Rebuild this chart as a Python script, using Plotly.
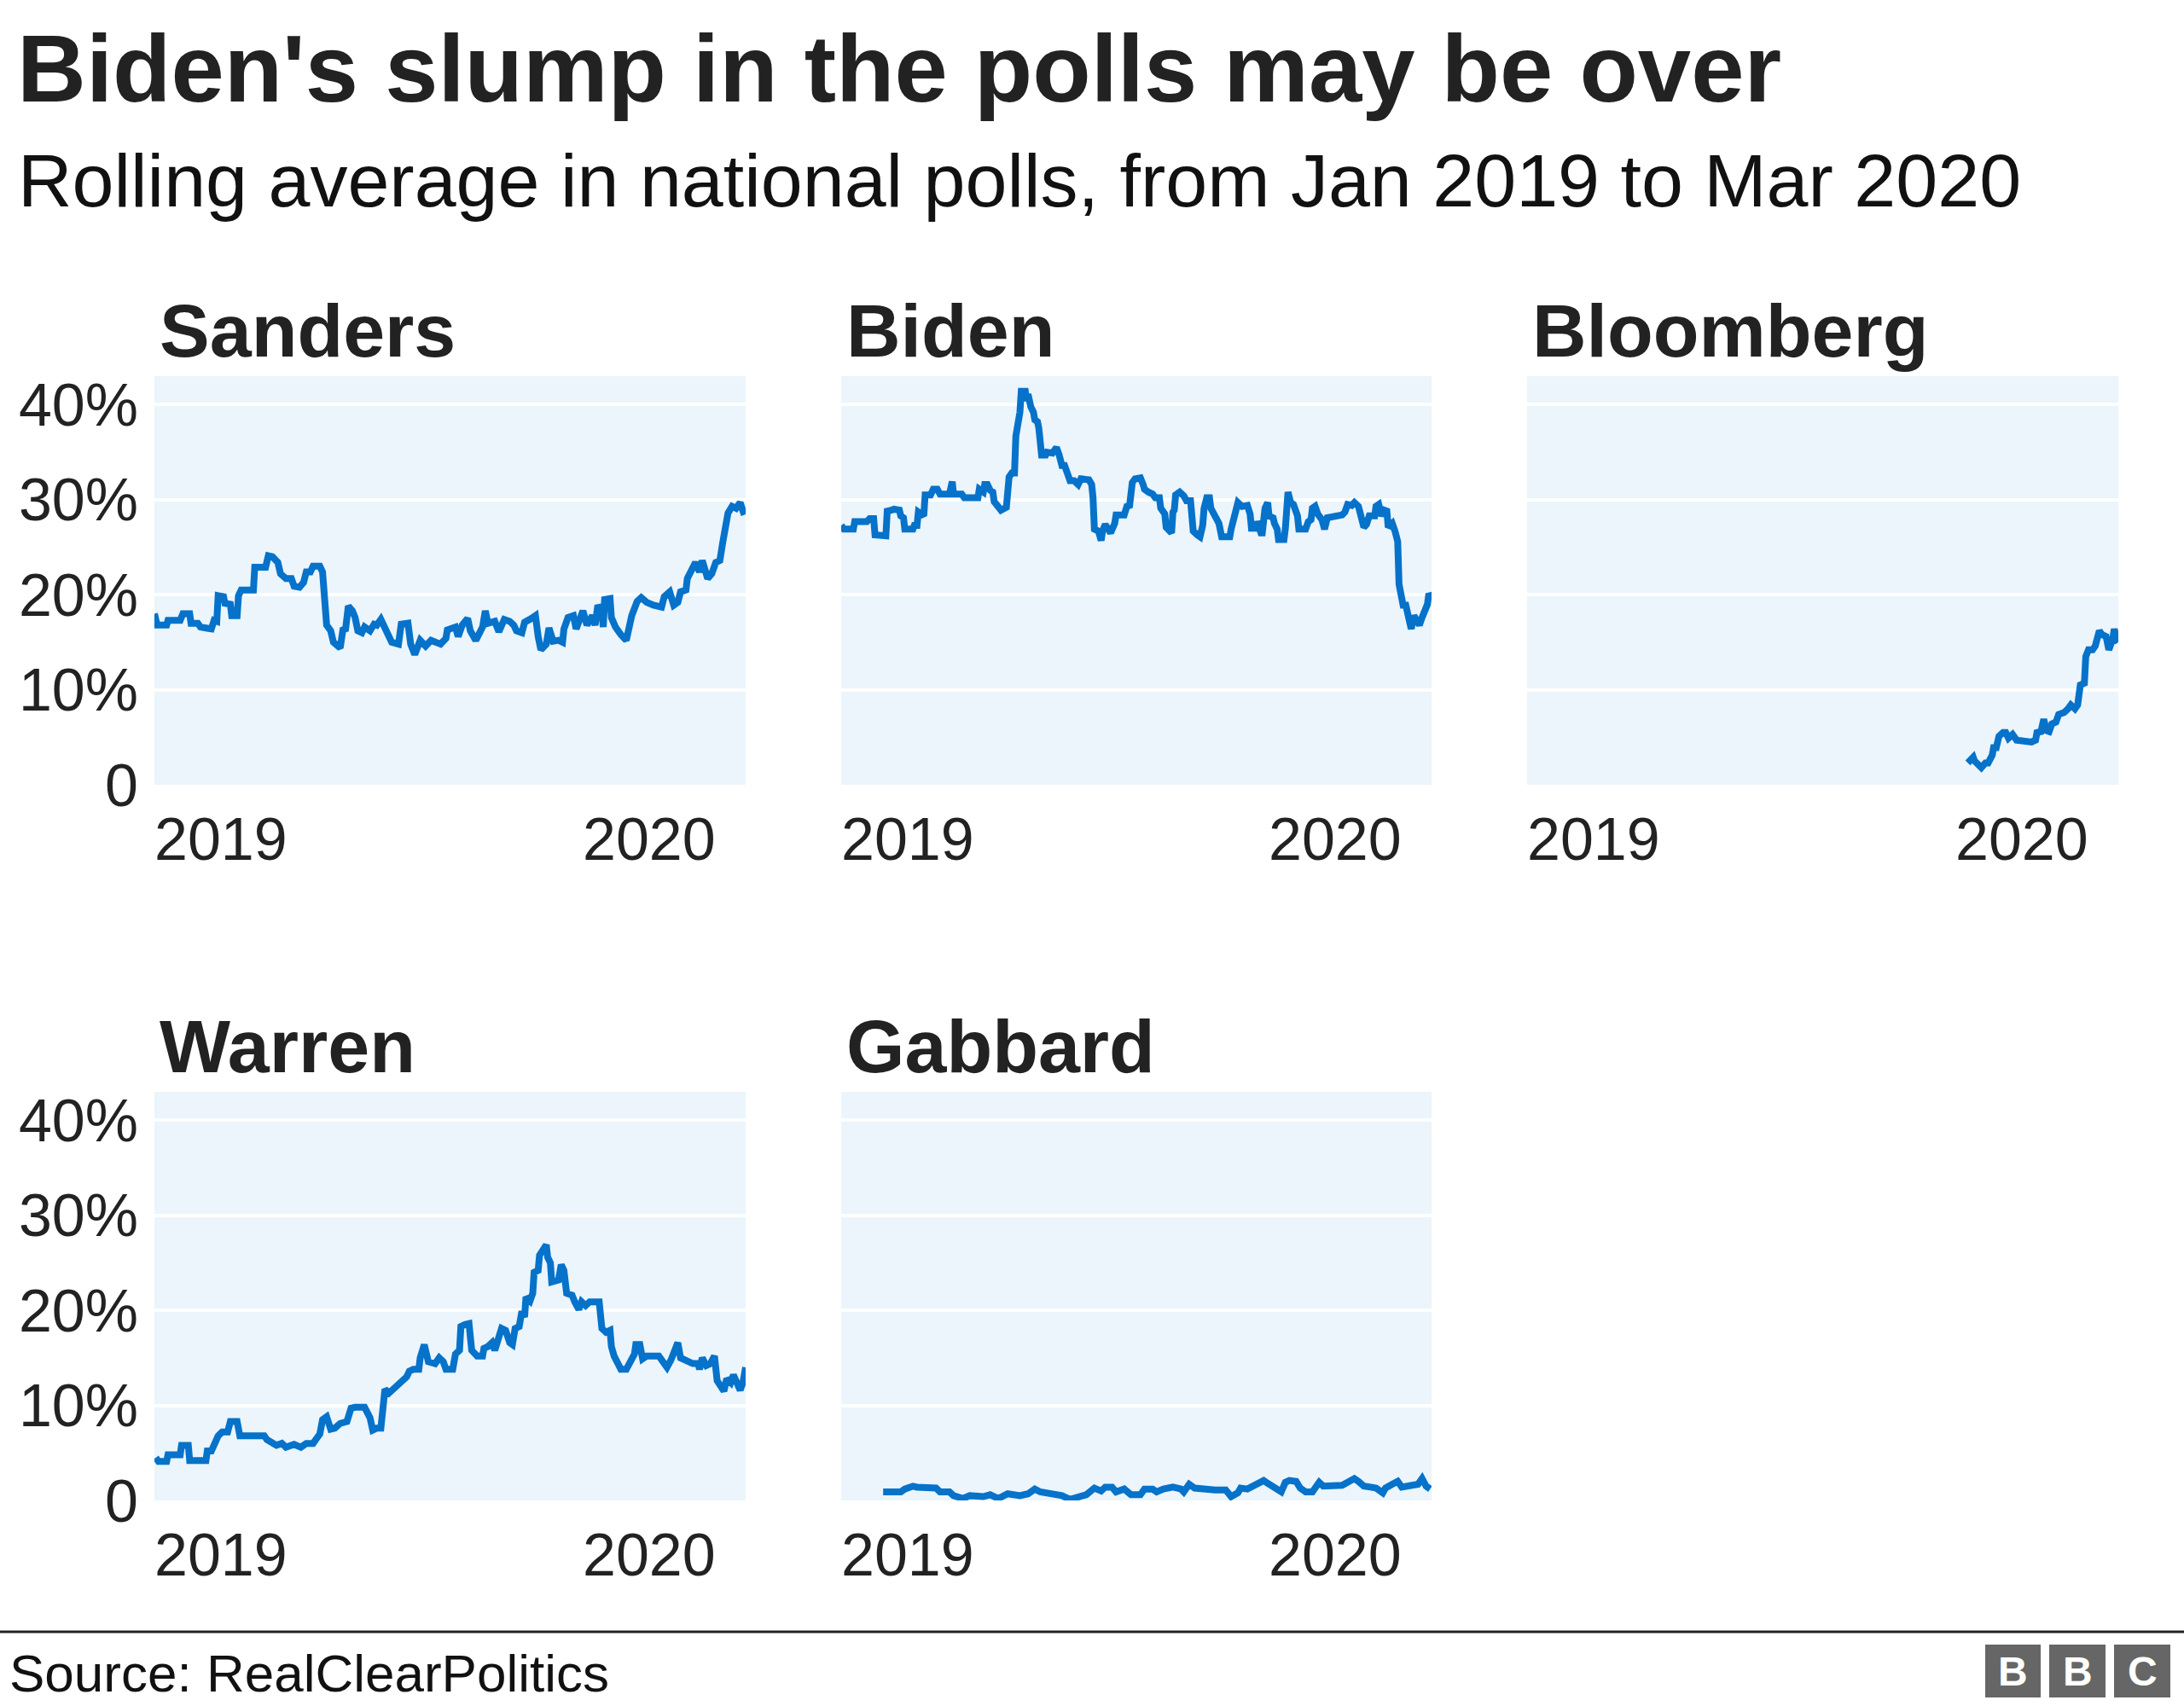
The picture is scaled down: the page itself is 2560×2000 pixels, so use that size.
import pandas as pd
import plotly.graph_objects as go

# ---------------- data (days since 1 Jan 2019, rolling poll average in %) ----------------
START = "2019-01-01"
X_END = "2020-03-12"

sanders_day = [0, 2, 9, 10, 19, 21, 26, 27, 32, 34, 38, 42, 44, 46, 47, 51, 52, 56, 57, 61, 62, 64, 73, 74, 82,
               84, 87, 91, 93, 95, 97, 101, 103, 107, 110, 112, 115, 117, 122, 124, 126, 127, 130, 132, 137, 139,
               141, 143, 146, 148, 150, 153, 155, 159, 162, 164, 167, 169, 173, 175, 180, 182, 187, 189, 192, 196,
               200, 204, 211, 215, 216, 222, 224, 227, 231, 233, 237, 242, 244, 246, 251, 254, 258, 262, 265, 267,
               271, 273, 278, 281, 283, 285, 289, 291, 294, 298, 301, 302, 305, 309, 311, 316, 319, 323, 325, 327,
               330, 331, 332, 336, 337, 340, 344, 348, 352, 356, 359, 363, 368, 374, 376, 380, 383, 386, 388, 392,
               393, 397, 399, 402, 404, 408, 411, 414, 417, 419, 421, 423, 426, 429, 431, 432, 435]
sanders_pct = [18.0, 16.8, 16.8, 17.3, 17.3, 18.0, 18.0, 17.0, 17.0, 16.6, 16.5, 16.4, 17.3, 17.2, 19.9, 19.8, 19.1,
               19.0, 17.8, 17.8, 19.9, 20.5, 20.5, 22.9, 22.9, 24.1, 24.0, 23.4, 22.2, 22.0, 21.7, 21.7, 20.9, 20.8,
               21.3, 22.4, 22.4, 23.0, 23.0, 22.4, 19.5, 16.8, 16.2, 15.0, 14.4, 16.3, 16.4, 18.8, 18.3, 17.6, 16.2,
               16.0, 16.6, 16.2, 16.9, 16.8, 17.4, 16.8, 15.5, 15.0, 14.8, 16.9, 17.0, 14.8, 13.7, 15.2, 14.6, 15.2,
               14.8, 15.4, 16.3, 16.6, 15.6, 16.8, 17.5, 16.2, 15.2, 16.6, 18.3, 17.0, 17.2, 16.1, 17.4, 17.2, 16.8,
               16.2, 16.0, 17.1, 17.5, 17.8, 15.6, 14.2, 14.8, 16.5, 15.1, 15.2, 15.0, 16.4, 17.6, 17.8, 16.4, 18.3,
               16.8, 17.8, 16.8, 18.9, 18.1, 16.6, 19.5, 19.6, 17.6, 16.6, 15.8, 15.2, 17.8, 19.3, 19.7, 19.2, 18.9,
               18.7, 19.8, 20.3, 18.9, 19.2, 20.3, 20.5, 21.7, 22.8, 23.4, 22.4, 23.6, 21.7, 22.2, 23.4, 23.6, 25.4,
               27.4, 28.6, 29.3, 29.1, 29.5, 29.7, 28.4]

biden_day = [0, 2, 9, 10, 19, 21, 24, 25, 33, 34, 37, 39, 43, 44, 46, 47, 53, 54, 56, 57, 61, 62, 66, 68, 71, 73, 80,
             82, 83, 89, 91, 101, 102, 105, 106, 108, 110, 112, 113, 116, 118, 122, 124, 126, 128, 129, 131, 132, 133,
             136, 137, 138, 140, 142, 143, 145, 146, 148, 151, 152, 156, 159, 161, 163, 165, 167, 169, 172, 175, 177,
             183, 185, 186, 187, 190, 192, 193, 195, 199, 202, 203, 209, 211, 213, 215, 217, 221, 223, 224, 227, 230,
             232, 235, 236, 238, 239, 240, 242, 244, 245, 246, 247, 250, 253, 255, 258, 260, 263, 265, 267, 268, 270,
             272, 273, 275, 278, 279, 281, 283, 287, 288, 291, 293, 296, 299, 300, 302, 303, 306, 307, 310, 311, 313,
             315, 316, 319, 320, 322, 323, 327, 328, 330, 332, 334, 337, 338, 343, 345, 347, 348, 350, 352, 355, 357,
             359, 364, 367, 370, 372, 374, 377, 379, 382, 384, 386, 388, 390, 394, 395, 397, 399, 401, 403, 404, 407,
             409, 411, 412, 414, 415, 417, 419, 421, 423, 425, 427, 429, 431, 433, 434, 435]
biden_pct = [27.3, 26.9, 26.9, 27.7, 27.7, 28.0, 28.0, 26.3, 26.2, 28.8, 28.9, 29.0, 28.9, 28.3, 28.1, 26.9, 26.9,
             27.3, 27.3, 28.7, 28.3, 30.5, 30.5, 31.1, 31.1, 30.6, 30.6, 31.9, 30.6, 30.6, 30.2, 30.2, 31.1, 30.8,
             31.6, 31.6, 31.0, 30.8, 29.8, 29.3, 28.9, 29.2, 32.4, 32.8, 32.8, 36.7, 38.4, 39.2, 41.4, 41.4, 40.4,
             41.1, 39.8, 39.2, 38.4, 38.2, 37.5, 34.7, 34.7, 35.0, 34.9, 35.5, 34.7, 33.6, 33.6, 32.6, 32.0, 32.0,
             31.6, 32.2, 32.1, 31.6, 30.2, 26.9, 26.7, 25.7, 26.7, 27.4, 26.5, 27.5, 28.4, 28.4, 29.3, 29.4, 31.8,
             32.2, 32.3, 31.6, 31.1, 30.8, 30.6, 30.2, 30.2, 29.1, 28.7, 28.5, 27.1, 26.9, 26.5, 28.7, 28.9, 30.5,
             30.8, 30.4, 29.9, 29.9, 26.7, 26.3, 26.1, 27.3, 29.1, 30.2, 30.2, 29.1, 28.5, 27.9, 27.5, 26.1, 26.1,
             26.1, 26.9, 29.1, 29.7, 29.3, 29.3, 29.4, 28.5, 27.0, 27.0, 27.7, 26.5, 26.5, 29.1, 29.7, 28.3, 28.1,
             27.5, 26.9, 25.8, 25.8, 26.9, 30.8, 29.7, 29.5, 28.3, 26.9, 26.9, 27.7, 27.9, 29.1, 29.3, 28.5, 27.9,
             26.9, 28.1, 28.2, 28.3, 28.4, 28.7, 29.5, 29.4, 29.7, 29.3, 28.3, 27.1, 27.4, 28.3, 28.3, 29.3, 29.5,
             28.3, 28.9, 28.8, 27.1, 27.5, 26.7, 25.6, 21.1, 19.5, 18.9, 18.9, 17.6, 16.4, 17.8, 17.4, 16.8, 17.6,
             18.3, 19.0, 20.1, 19.9]

bloomberg_day = [325, 327, 329, 330, 332, 335, 338, 340, 343, 344, 346, 348, 351, 353, 355, 358, 361, 366, 372, 375,
                 376, 379, 381, 383, 385, 387, 390, 392, 396, 399, 401, 404, 406, 408, 411, 412, 414, 417, 419, 422,
                 424, 427, 429, 432, 433, 435, 436]
bloomberg_pct = [2.3, 2.5, 2.9, 2.5, 2.2, 1.8, 2.3, 2.3, 3.1, 3.9, 3.9, 5.1, 5.5, 5.5, 4.9, 5.3, 4.7, 4.6, 4.5, 4.7,
                 5.5, 5.6, 6.9, 5.7, 5.6, 6.4, 6.6, 7.4, 7.6, 8.0, 8.4, 8.0, 8.4, 10.5, 10.7, 13.5, 14.2, 14.2, 14.6,
                 16.2, 15.8, 15.6, 14.2, 15.4, 16.4, 15.2, 15.0]

warren_day = [1, 3, 9, 10, 19, 20, 25, 26, 38, 39, 42, 44, 47, 50, 54, 56, 61, 63, 81, 83, 86, 90, 94, 97, 103, 108,
              112, 117, 120, 122, 124, 127, 130, 133, 137, 142, 145, 148, 155, 159, 161, 164, 167, 168, 170, 173, 177,
              180, 183, 186, 188, 191, 195, 196, 199, 202, 207, 210, 213, 215, 220, 222, 225, 226, 229, 232, 234, 238,
              242, 243, 246, 249, 251, 254, 256, 259, 262, 264, 266, 269, 271, 273, 274, 277, 279, 280, 283, 284, 287,
              289, 290, 292, 293, 298, 300, 302, 304, 308, 310, 313, 315, 318, 321, 328, 330, 333, 336, 337, 339, 342,
              344, 348, 351, 354, 355, 358, 360, 363, 372, 375, 378, 381, 384, 386, 388, 392, 397, 401, 402, 404, 407,
              410, 413, 415, 418, 420, 422, 425, 427, 430, 432, 434, 436]
warren_pct = [4.5, 4.1, 4.1, 4.8, 4.8, 5.8, 5.8, 4.2, 4.2, 5.2, 5.2, 6.0, 6.8, 7.2, 7.2, 8.3, 8.3, 6.8, 6.8, 6.4, 6.2,
              5.8, 6.0, 5.6, 5.9, 5.6, 6.0, 6.0, 6.6, 7.0, 8.5, 8.8, 7.5, 7.6, 8.1, 8.3, 9.7, 9.8, 9.8, 8.7, 7.4, 7.6,
              7.6, 9.9, 11.7, 11.3, 11.9, 12.3, 12.8, 13.0, 13.6, 13.8, 13.8, 15.0, 16.4, 14.6, 14.4, 15.0, 14.6, 13.8,
              13.8, 15.4, 15.8, 18.3, 18.5, 18.6, 15.8, 15.2, 15.2, 16.0, 16.2, 16.6, 15.8, 17.3, 18.1, 17.9, 16.6,
              16.4, 18.1, 18.3, 19.9, 19.3, 21.4, 21.0, 21.8, 24.0, 24.2, 25.8, 26.5, 26.9, 25.6, 25.0, 23.0, 23.2,
              24.8, 24.2, 21.8, 21.6, 20.9, 20.1, 20.9, 20.5, 20.9, 20.9, 18.1, 17.7, 17.9, 16.2, 15.2, 14.2, 13.8,
              13.8, 14.6, 15.4, 16.4, 16.4, 14.9, 15.2, 15.2, 14.6, 14.0, 14.8, 16.0, 16.6, 15.0, 14.8, 14.4, 14.4,
              13.8, 15.0, 14.2, 14.4, 15.2, 12.6, 12.1, 11.5, 12.8, 12.4, 13.2, 11.9, 11.6, 12.4, 14.0]

gabbard_day = [31, 44, 47, 53, 56, 70, 73, 80, 83, 90, 95, 105, 110, 116, 123, 132, 138, 143, 147, 159, 163, 169, 175,
               181, 187, 192, 195, 200, 203, 209, 214, 221, 224, 230, 233, 238, 245, 251, 253, 257, 261, 269, 276, 284,
               288, 293, 295, 300, 304, 309, 312, 315, 318, 322, 325, 328, 331, 336, 339, 343, 348, 350, 353, 356, 361,
               365, 370, 374, 379, 382, 386, 391, 395, 400, 402, 407, 411, 414, 419, 423, 426, 429, 431, 432, 435]
gabbard_pct = [0.9, 0.9, 1.2, 1.5, 1.4, 1.3, 0.9, 0.9, 0.5, 0.2, 0.5, 0.4, 0.6, 0.2, 0.7, 0.5, 0.7, 1.2, 0.9, 0.6, 0.5,
               0.1, 0.3, 0.6, 1.3, 1.0, 1.4, 1.4, 0.9, 1.2, 0.6, 0.6, 1.2, 1.2, 0.9, 1.2, 1.4, 1.2, 0.9, 1.7, 1.3, 1.1,
               1.1, 1.1, 0.4, 0.8, 1.3, 1.2, 1.5, 1.9, 2.1, 1.8, 1.5, 1.1, 0.9, 1.9, 2.1, 2.0, 1.3, 0.9, 0.9, 1.3, 1.9,
               1.5, 1.6, 1.5, 1.6, 1.9, 2.3, 2.0, 1.5, 1.4, 1.3, 0.8, 1.3, 1.7, 2.0, 1.4, 1.5, 1.5, 1.7, 2.3, 1.7, 1.5,
               1.2]

candidates = ["Sanders", "Biden", "Bloomberg", "Warren", "Gabbard"]
series_days = [sanders_day, biden_day, bloomberg_day, warren_day, gabbard_day]
series_pct = [sanders_pct, biden_pct, bloomberg_pct, warren_pct, gabbard_pct]

y_tickvals = [0, 10, 20, 30, 40]
y_ticktext = ["0", "10%", "20%", "30%", "40%"]
x_ticks = [("2019-01-01", "2019"), ("2020-01-01", "2020")]

TITLE = "Biden's slump in the polls may be over"
SUBTITLE = "Rolling average in national polls, from Jan 2019 to Mar 2020"
SOURCE = "Source: RealClearPolitics"

# ---------------- styling / layout ----------------
W, H = 2560, 2000
FONT = "Liberation Sans, Arial, Helvetica, sans-serif"
TEXT = "#222222"
BLUE = "#0672ca"
BG = "#ebf5fb"

col_px = [(181, 874), (986, 1678), (1790, 2483)]
row_px = [(441, 920), (1280, 1759)]
grid_pos = [(0, 0), (0, 1), (0, 2), (1, 0), (1, 1)]
title_cy = [387, 1226]
tick_cy = [984, 1823]

fig = go.Figure()
annotations = []

for i, name in enumerate(candidates):
    r, c = grid_pos[i]
    sfx = "" if i == 0 else str(i + 1)
    dates = pd.Timestamp(START) + pd.to_timedelta(series_days[i], unit="D")
    fig.add_trace(go.Scatter(
        x=dates, y=series_pct[i], mode="lines",
        line=dict(color=BLUE, width=8),
        xaxis="x" + sfx, yaxis="y" + sfx,
        showlegend=False, hoverinfo="skip", name=name,
    ))
    x0, x1 = col_px[c]
    y0, y1 = row_px[r]
    fig.layout["xaxis" + sfx] = dict(
        domain=[x0 / W, x1 / W], anchor="y" + sfx, type="date",
        range=[START, X_END], showgrid=False, zeroline=False,
        showline=False, ticks="", showticklabels=False, fixedrange=True,
        automargin=False,
    )
    fig.layout["yaxis" + sfx] = dict(
        domain=[1 - y1 / H, 1 - y0 / H], anchor="x" + sfx,
        range=[0, 43], tickvals=y_tickvals, ticktext=y_ticktext,
        showticklabels=(c == 0), showgrid=True, gridcolor="white",
        gridwidth=4, zeroline=False, showline=False, ticks="",
        ticklabelstandoff=18, fixedrange=True, automargin=False,
        tickfont=dict(family=FONT, size=70, color=TEXT),
    )
    # panel title
    annotations.append(dict(
        text=name, xref="paper", yref="paper",
        x=(x0 + 4) / W, y=1 - title_cy[r] / H,
        xanchor="left", yanchor="middle", showarrow=False,
        font=dict(family=FONT, size=88, color=TEXT, weight="bold"),
    ))
    # x tick labels (first label left-aligned at the axis start, as in the original)
    for k, (xv, lab) in enumerate(x_ticks):
        annotations.append(dict(
            text=lab, xref="x" + sfx, yref="paper",
            x=xv, y=1 - tick_cy[r] / H,
            xanchor="left" if k == 0 else "center", yanchor="middle",
            xshift=-2 if k == 0 else 0,
            showarrow=False,
            font=dict(family=FONT, size=70, color=TEXT),
        ))

# headline texts
annotations.append(dict(text=TITLE, xref="paper", yref="paper", x=18 / W, y=1 - 81 / H,
                        xanchor="left", yanchor="middle", showarrow=False,
                        font=dict(family=FONT, size=112, color=TEXT, weight="bold")))
annotations.append(dict(text=SUBTITLE, xref="paper", yref="paper", x=19 / W, y=1 - 211 / H,
                        xanchor="left", yanchor="middle", showarrow=False,
                        font=dict(family=FONT, size=88, color="#111111")))
annotations.append(dict(text=SOURCE, xref="paper", yref="paper", x=9 / W, y=1 - 1961 / H,
                        xanchor="left", yanchor="middle", showarrow=False,
                        font=dict(family=FONT, size=62, color="#111111")))

# footer rule and BBC logo blocks
shapes = [dict(type="line", xref="paper", yref="paper", x0=0, x1=1, y0=1 - 1913 / H, y1=1 - 1913 / H,
               line=dict(color="#222222", width=3))]
logo_boxes = [(2327, 2392), (2402, 2468), (2478, 2544)]
for (bx0, bx1), letter in zip(logo_boxes, ["B", "B", "C"]):
    shapes.append(dict(type="rect", xref="paper", yref="paper",
                       x0=bx0 / W, x1=bx1 / W, y0=1 - 1990 / H, y1=1 - 1928 / H,
                       fillcolor="#666666", line=dict(width=0)))
    annotations.append(dict(text=letter, xref="paper", yref="paper",
                            x=(bx0 + bx1) / 2 / W, y=1 - 1959 / H,
                            xanchor="center", yanchor="middle", showarrow=False,
                            font=dict(family=FONT, size=48, color="white", weight="bold")))

fig.update_layout(
    width=W, height=H, margin=dict(l=0, r=0, t=0, b=0, autoexpand=False),
    paper_bgcolor="white", plot_bgcolor=BG,
    showlegend=False, hovermode=False,
    annotations=annotations, shapes=shapes,
    font=dict(family=FONT, color=TEXT),
)

# keep the page exactly the figure size (no default body margin / scrollbars)
fig.write_html(
    "out.html",
    config={"displayModeBar": False, "staticPlot": True},
    post_script="document.body.style.margin='0';document.body.style.overflow='hidden';"
                "document.documentElement.style.overflow='hidden';",
)
